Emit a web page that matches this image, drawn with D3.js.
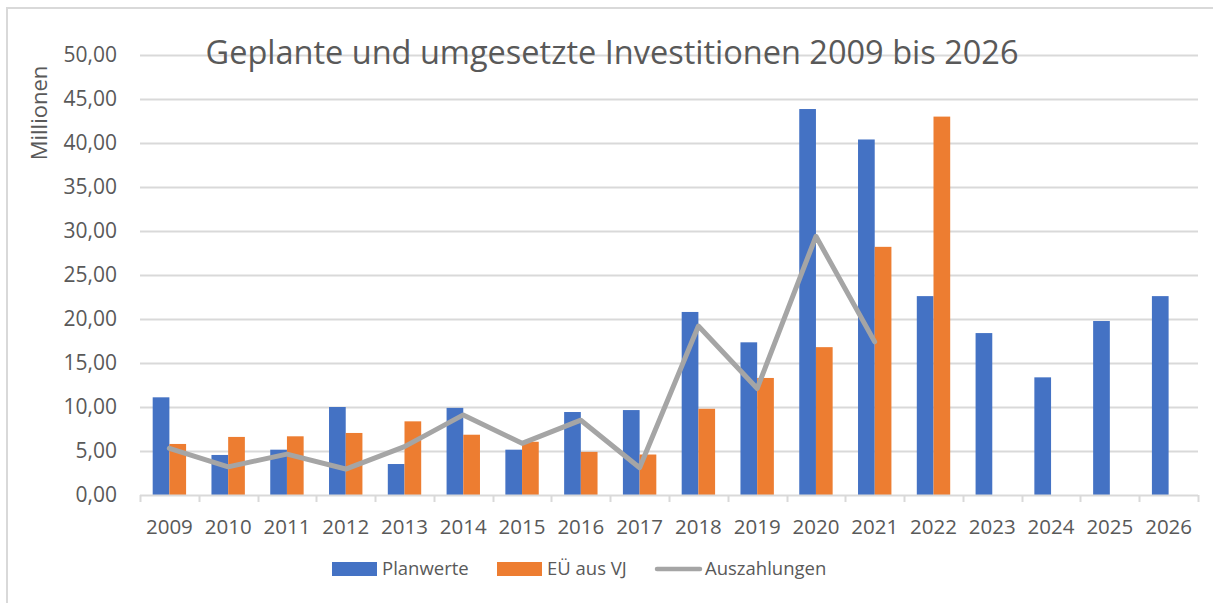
<!DOCTYPE html>
<html>
<head>
<meta charset="utf-8">
<script src="https://cdn.jsdelivr.net/npm/d3@7"></script>
<style>
  body { margin: 0; background: #fff; overflow: hidden; }
  svg text { font-family: "Open Sans", "Liberation Sans", sans-serif; fill: #595959; }
</style>
</head>
<body>
<svg id="chart"></svg>
<script>
// data
const years = ["2009","2010","2011","2012","2013","2014","2015","2016","2017","2018","2019","2020","2021","2022","2023","2024","2025","2026"]
const planwerte = [11.1, 4.55, 5.15, 10.0, 3.52, 9.9, 5.15, 9.43, 9.65, 20.8, 17.35, 43.86, 40.4, 22.6, 18.4, 13.37, 19.77, 22.6]
const euAusVJ = [5.8, 6.6, 6.67, 7.05, 8.37, 6.85, 6.05, 4.9, 4.6, 9.8, 13.3, 16.8, 28.2, 43.0, null, null, null, null]
const auszahlungen = [5.3, 3.2, 4.65, 2.95, 5.5, 9.1, 5.87, 8.5, 3.1, 19.2, 12.1, 29.4, 17.4, null, null, null, null, null]
const yTicks = [0, 5, 10, 15, 20, 25, 30, 35, 40, 45, 50]

const width = 1213, height = 603
const margin = ({top: 55, right: 15, bottom: 108, left: 140})

const svg = d3.select("#chart")
  .attr("width", width)
  .attr("height", height)

// chart frame (only top and left edges are inside the picture)
svg.append("rect")
  .attr("x", 7).attr("y", 8)
  .attr("width", width + 20).attr("height", height + 20)
  .attr("fill", "none")
  .attr("stroke", "#d9d9d9")
  .attr("stroke-width", 2)

const x = d3.scaleBand()
  .domain(years)
  .range([margin.left, width - margin.right])

const y = d3.scaleLinear()
  .domain([0, 50])
  .range([height - margin.bottom, margin.top])

const de = d3.formatLocale({decimal: ",", thousands: ".", grouping: [3], currency: ["", " €"]})
const fmt = de.format(".2f")

// gridlines
svg.append("g")
  .selectAll("line")
  .data(yTicks.slice(1))
  .join("line")
    .attr("x1", margin.left)
    .attr("x2", width - margin.right)
    .attr("y1", d => Math.round(y(d)) + 0.5)
    .attr("y2", d => Math.round(y(d)) + 0.5)
    .attr("stroke", "#d9d9d9")
    .attr("stroke-width", 2)

// y tick labels
svg.append("g")
  .selectAll("text")
  .data(yTicks)
  .join("text")
    .attr("x", 117)
    .attr("y", d => y(d))
    .attr("dy", "0.35em")
    .attr("text-anchor", "end")
    .attr("font-size", "21px")
    .text(d => fmt(d))

// y axis title
svg.append("text")
  .attr("transform", `translate(47, 113) rotate(-90)`)
  .attr("text-anchor", "middle")
  .attr("font-size", "22px")
  .text("Millionen")

// bars
const bw = 16.7
const series = [
  {name: "Planwerte", values: planwerte, color: "#4472c4", off: -bw},
  {name: "EÜ aus VJ", values: euAusVJ, color: "#ed7d31", off: 0}
]

series.forEach(s => {
  svg.append("g")
    .selectAll("rect")
    .data(years.map((yr, i) => ({yr, v: s.values[i]})).filter(d => d.v != null))
    .join("rect")
      .attr("x", d => x(d.yr) + x.bandwidth() / 2 + s.off)
      .attr("y", d => y(d.v))
      .attr("width", bw)
      .attr("height", d => y(0) - y(d.v))
      .attr("fill", s.color)
})

// x axis
const xAxis = svg.append("g")
  .attr("transform", `translate(0, ${y(0)})`)

xAxis.append("line")
  .attr("x1", margin.left).attr("x2", width - margin.right)
  .attr("y1", 0.5).attr("y2", 0.5)
  .attr("stroke", "#d9d9d9").attr("stroke-width", 2)

xAxis.selectAll(".tick")
  .data(years.concat(["end"]))
  .join("line")
    .attr("x1", (d, i) => Math.round(margin.left + i * x.step()) + 0.5)
    .attr("x2", (d, i) => Math.round(margin.left + i * x.step()) + 0.5)
    .attr("y1", 0).attr("y2", 7)
    .attr("stroke", "#d9d9d9").attr("stroke-width", 2)

xAxis.selectAll("text")
  .data(years)
  .join("text")
    .attr("x", d => x(d) + x.bandwidth() / 2)
    .attr("y", 39)
    .attr("text-anchor", "middle")
    .attr("font-size", "20.5px")
    .text(d => d)

// line
const line = d3.line()
  .defined(d => d.v != null)
  .x(d => x(d.yr) + x.bandwidth() / 2)
  .y(d => y(d.v))

svg.append("path")
  .datum(years.map((yr, i) => ({yr, v: auszahlungen[i]})))
  .attr("d", line)
  .attr("fill", "none")
  .attr("stroke", "#a5a5a5")
  .attr("stroke-width", 5)
  .attr("stroke-linejoin", "round")
  .attr("stroke-linecap", "round")

// title
svg.append("text")
  .attr("x", 612)
  .attr("y", 64)
  .attr("text-anchor", "middle")
  .attr("font-size", "32.5px")
  .text("Geplante und umgesetzte Investitionen 2009 bis 2026")

// legend
const legend = svg.append("g")
const items = [
  {name: "Planwerte", color: "#4472c4", type: "rect", x: 332},
  {name: "EÜ aus VJ", color: "#ed7d31", type: "rect", x: 497},
  {name: "Auszahlungen", color: "#a5a5a5", type: "line", x: 655}
]
items.forEach(it => {
  if (it.type === "rect") {
    legend.append("rect")
      .attr("x", it.x).attr("y", 562)
      .attr("width", 45).attr("height", 14)
      .attr("fill", it.color)
  } else {
    legend.append("line")
      .attr("x1", it.x + 2).attr("x2", it.x + 45)
      .attr("y1", 569).attr("y2", 569)
      .attr("stroke", it.color).attr("stroke-width", 4.5)
      .attr("stroke-linecap", "round")
  }
  legend.append("text")
    .attr("x", it.x + 50)
    .attr("y", 569)
    .attr("dy", "0.35em")
    .attr("font-size", "18.5px")
    .text(it.name)
})
</script>
</body>
</html>
